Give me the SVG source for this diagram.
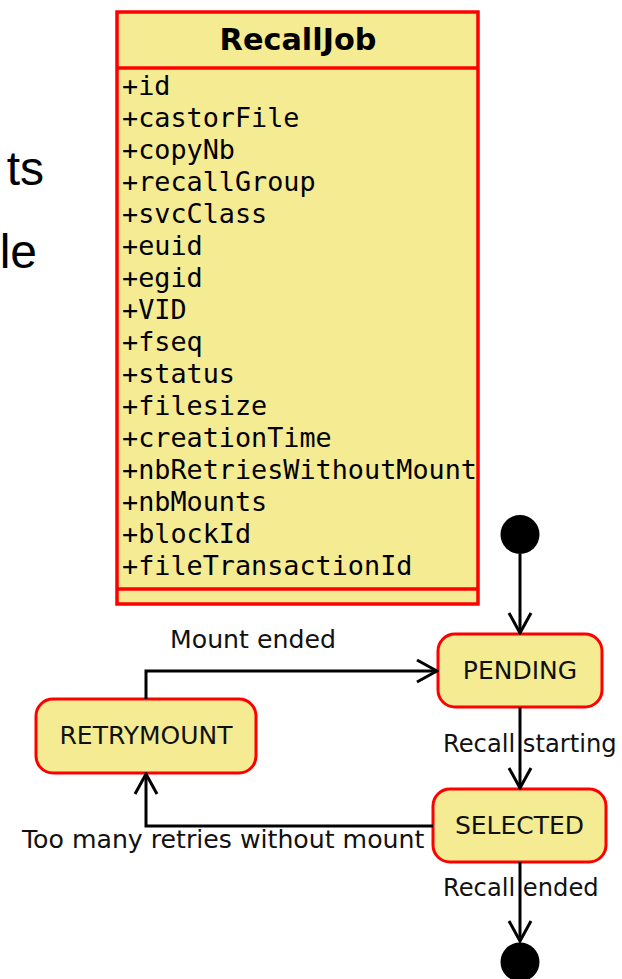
<svg xmlns="http://www.w3.org/2000/svg" width="622" height="979" viewBox="0 0 622 979">
<style>
.box{fill:#F4EB92;stroke:#FF0000;stroke-width:3.5}
.state{fill:#F4EB92;stroke:#FF0000;stroke-width:3}
.attr{font-family:"DejaVu Sans Mono","Liberation Mono",monospace;font-size:26.8px;fill:#000}
.title{font-family:"DejaVu Sans",sans-serif;font-weight:bold;font-size:30.3px;fill:#000}
.st{font-family:"DejaVu Sans",sans-serif;font-size:25px;fill:#111;text-anchor:middle}
.lbl{font-family:"DejaVu Sans",sans-serif;font-size:25.2px;fill:#111}
.lbl2{font-family:"DejaVu Sans",sans-serif;font-size:24.2px;fill:#111}
.slide{font-family:"Liberation Sans",Arial,sans-serif;font-size:48px;fill:#000;text-anchor:end}
.conn{fill:none;stroke:#000;stroke-width:3;marker-end:url(#arr)}
</style>
<defs>
<marker id="arr" viewBox="0 0 24 26" refX="22" refY="13" markerUnits="userSpaceOnUse" markerWidth="24" markerHeight="26" orient="auto">
<path d="M2,2 L22,13 L2,24" fill="none" stroke="#000" stroke-width="3"/>
</marker>
</defs>
<rect width="622" height="979" fill="#fff"/>
<text class="slide" x="44" y="185">ts</text>
<text class="slide" x="37" y="268">le</text>
<g id="RecallJob">
<rect class="box" x="117" y="12" width="361" height="592"/>
<line x1="117" y1="68" x2="478" y2="68" stroke="#FF0000" stroke-width="3.5"/>
<line x1="117" y1="589" x2="478" y2="589" stroke="#FF0000" stroke-width="3.5"/>
<text class="title" x="298" y="50" text-anchor="middle">RecallJob</text>
<text class="attr" x="122" y="95">+id</text>
<text class="attr" x="122" y="127">+castorFile</text>
<text class="attr" x="122" y="159">+copyNb</text>
<text class="attr" x="122" y="191">+recallGroup</text>
<text class="attr" x="122" y="223">+svcClass</text>
<text class="attr" x="122" y="255">+euid</text>
<text class="attr" x="122" y="287">+egid</text>
<text class="attr" x="122" y="319">+VID</text>
<text class="attr" x="122" y="351">+fseq</text>
<text class="attr" x="122" y="383">+status</text>
<text class="attr" x="122" y="415">+filesize</text>
<text class="attr" x="122" y="447">+creationTime</text>
<text class="attr" x="122" y="479">+nbRetriesWithoutMount</text>
<text class="attr" x="122" y="511">+nbMounts</text>
<text class="attr" x="122" y="543">+blockId</text>
<text class="attr" x="122" y="575">+fileTransactionId</text>
</g>
<g id="initial"><circle cx="520" cy="534.5" r="19.5" fill="#000"/></g>
<g id="final"><circle cx="520" cy="962" r="19.5" fill="#000"/></g>
<g id="PENDING">
<rect class="state" x="438" y="634" width="164" height="73" rx="17"/>
<text class="st" x="520" y="679">PENDING</text>
</g>
<g id="SELECTED">
<rect class="state" x="433" y="789" width="173" height="73" rx="17"/>
<text class="st" x="519.5" y="834">SELECTED</text>
</g>
<g id="RETRYMOUNT">
<rect class="state" x="36" y="699" width="220" height="74" rx="17"/>
<text class="st" x="146" y="744">RETRYMOUNT</text>
</g>
<g id="connectors">
<path class="conn" d="M520,554 V633"/>
<path class="conn" d="M146,699 V671 H437"/>
<path class="conn" d="M520,707 V788"/>
<path class="conn" d="M433,826 H146 V774"/>
<path class="conn" d="M520,862 V941"/>
<text class="lbl" x="170" y="648">Mount ended</text>
<text class="lbl2" x="443" y="752">Recall starting</text>
<text class="lbl" x="22" y="848">Too many retries without mount</text>
<text class="lbl2" x="443" y="896">Recall ended</text>
</g>
</svg>
